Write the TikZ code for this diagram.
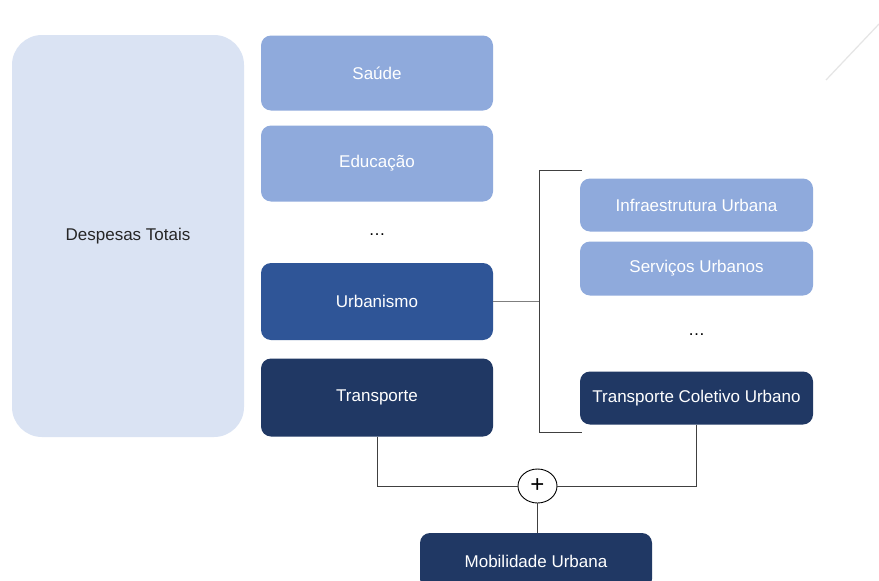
\documentclass[tikz,border=0pt]{standalone}
\usepackage{fontspec}
\setmainfont{Liberation Sans}
\usetikzlibrary{shapes.geometric}
\definecolor{cpale}{HTML}{DAE3F3}
\definecolor{cmid}{HTML}{8FAADC}
\definecolor{curb}{HTML}{2F5597}
\definecolor{cdark}{HTML}{203864}
\definecolor{clinegray}{HTML}{7F7F7F}
\definecolor{clinedark}{HTML}{404040}
\tikzset{
  blk/.style={rounded corners=10pt, inner sep=0pt, text=white,
    font=\fontsize{17}{20}\selectfont},
  bigblk/.style={blk, minimum width=232pt, minimum height=77pt},
  smallblk/.style={blk, minimum width=233pt, minimum height=54pt},
  conn/.style={draw=clinedark, line width=1pt},
}
\begin{document}
\begin{tikzpicture}[x=1pt,y=-1pt]
\useasboundingbox (0,0) rectangle (879,581);
\clip (0,0) rectangle (879,581);
\fill[white] (0,0) rectangle (879,581);
% diagonal decoration
\draw[black!10, line width=1.2pt] (826,80) -- (879,24);
% left block
\node[blk, fill=cpale, text=black!85, rounded corners=30pt, minimum width=232pt, minimum height=402pt] (tot) at (128,236) {Despesas Totais};
% middle column
\node[bigblk, fill=cmid, minimum height=75pt] (sau) at (377,73) {Saúde};
\node[bigblk, fill=cmid, minimum height=76pt] (edu) at (377,163.5) {Educação};
\node[font=\fontsize{17}{20}\selectfont] (dots1) at (377,235) {\dots};
\node[bigblk, fill=curb] (urb) at (377,301.5) {Urbanismo};
\node[bigblk, fill=cdark, minimum height=78pt] (tra) at (377,397.5) {Transporte};
% right column
\node[smallblk, fill=cmid, minimum height=53pt] (inf) at (696.5,205) {Infraestrutura Urbana};
\node[smallblk, fill=cmid] (ser) at (696.5,268.5) {Serviços Urbanos};
\node[font=\fontsize{17}{20}\selectfont] (dots2) at (696.5,335) {\dots};
\node[smallblk, fill=cdark, minimum height=53pt] (tcu) at (696.5,398) {Transporte Coletivo Urbano};
% bracket
\coordinate (bm) at (539,301.5);
\coordinate (bt) at (539,170);
\coordinate (bb) at (539,432);
\coordinate (btr) at (582,170);
\coordinate (bbr) at (582,432);
\draw[draw=clinegray, line width=1.2pt] (urb.east) -- (bm);
\draw[conn] (btr) -- (bt) -- (bb) -- (bbr);
% plus and result
\node[ellipse, draw=black, line width=0.9pt, fill=white, minimum width=39pt, minimum height=34pt, inner sep=0pt, font=\fontsize{24}{24}\selectfont] (plus) at (537.5,486) {+};
\node[blk, fill=cdark, minimum width=232pt, minimum height=56pt] (mob) at (536,561) {Mobilidade Urbana};
\draw[conn] (tra.south) |- (plus.west);
\draw[conn] (tcu.south) |- (plus.east);
\draw[conn] (plus.south) -- (plus.south |- mob.north);
\end{tikzpicture}
\end{document}
